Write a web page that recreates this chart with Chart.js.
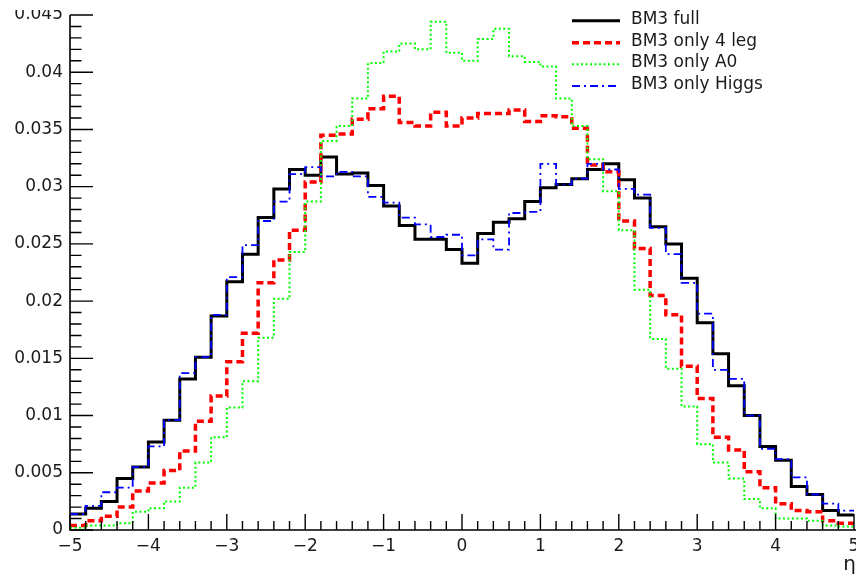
<!DOCTYPE html>
<html>
<head>
<meta charset="utf-8">
<title>BM3 eta distributions</title>
<script src="https://cdn.jsdelivr.net/npm/chart.js@4.4.1/dist/chart.umd.min.js"></script>
<style>
  html, body { margin: 0; padding: 0; background: #fff; }
  #wrap { width: 856px; height: 576px; position: relative; overflow: hidden; }
</style>
</head>
<body>
<div id="wrap"><canvas id="etaChart" width="856" height="576"></canvas></div>
<script>
// bin edges of the eta histograms (50 bins)
const binEdges = [
  -5.0, -4.8, -4.6, -4.4, -4.2, -4.0, -3.8, -3.6, -3.4, -3.2,
  -3.0, -2.8, -2.6, -2.4, -2.2, -2.0, -1.8, -1.6, -1.4, -1.2,
  -1.0, -0.8, -0.6, -0.4, -0.2, 0.0, 0.2, 0.4, 0.6, 0.8,
  1.0, 1.2, 1.4, 1.6, 1.8, 2.0, 2.2, 2.4, 2.6, 2.8,
  3.0, 3.2, 3.4, 3.6, 3.8, 4.0, 4.2, 4.4, 4.6, 4.8, 5.0
];

const fullValues = [
  0.0014, 0.0019, 0.0025, 0.0045, 0.0055, 0.0077, 0.0096, 0.0132, 0.0151, 0.0187,
  0.0217, 0.0241, 0.0273, 0.0298, 0.0315, 0.0310, 0.0326, 0.0311, 0.0312, 0.0301,
  0.0283, 0.0266, 0.0254, 0.0254, 0.0245, 0.0233, 0.0259, 0.0269, 0.0272, 0.0287,
  0.0299, 0.0302, 0.0307, 0.0315, 0.0320, 0.0306, 0.0290, 0.0265, 0.0250, 0.0220,
  0.0181, 0.0154, 0.0126, 0.0100, 0.0073, 0.0061, 0.0038, 0.0031, 0.0017, 0.0013
];

const fourLegValues = [
  0.0004, 0.0008, 0.0012, 0.0020, 0.0034, 0.0041, 0.0052, 0.0069, 0.0095, 0.0117,
  0.0147, 0.0172, 0.0216, 0.0236, 0.0262, 0.0304, 0.0345, 0.0346, 0.0359, 0.0368,
  0.0379, 0.0356, 0.0353, 0.0365, 0.0353, 0.0360, 0.0364, 0.0364, 0.0367, 0.0357,
  0.0362, 0.0361, 0.0351, 0.0319, 0.0313, 0.0270, 0.0246, 0.0205, 0.0188, 0.0143,
  0.0115, 0.0081, 0.0070, 0.0051, 0.0037, 0.0023, 0.0017, 0.0016, 0.0008, 0.0006
];

const a0Values = [
  0.0002, 0.0004, 0.0004, 0.0006, 0.0016, 0.0019, 0.0025, 0.0037, 0.0059, 0.0081,
  0.0107, 0.0130, 0.0168, 0.0202, 0.0243, 0.0287, 0.0340, 0.0353, 0.0377, 0.0408,
  0.0418, 0.0425, 0.0420, 0.0444, 0.0417, 0.0410, 0.0429, 0.0438, 0.0414, 0.0409,
  0.0405, 0.0377, 0.0353, 0.0324, 0.0296, 0.0262, 0.0210, 0.0167, 0.0141, 0.0108,
  0.0075, 0.0059, 0.0045, 0.0027, 0.0019, 0.0010, 0.0010, 0.0008, 0.0004, 0.0003
];

const higgsValues = [
  0.0014, 0.0021, 0.0033, 0.0037, 0.0055, 0.0073, 0.0096, 0.0137, 0.0151, 0.0188,
  0.0221, 0.0249, 0.0270, 0.0287, 0.0311, 0.0317, 0.0309, 0.0313, 0.0309, 0.0291,
  0.0286, 0.0273, 0.0267, 0.0256, 0.0258, 0.0240, 0.0254, 0.0245, 0.0277, 0.0278,
  0.0320, 0.0302, 0.0307, 0.0320, 0.0315, 0.0298, 0.0293, 0.0264, 0.0241, 0.0216,
  0.0189, 0.0140, 0.0132, 0.0100, 0.0071, 0.0062, 0.0046, 0.0031, 0.0023, 0.0017
];

const seriesLabels = ["BM3 full", "BM3 only 4 leg", "BM3 only A0", "BM3 only Higgs"];
const xTickValues = [-5, -4, -3, -2, -1, 0, 1, 2, 3, 4, 5];
const yTickValues = [0, 0.005, 0.01, 0.015, 0.02, 0.025, 0.03, 0.035, 0.04, 0.045];
const xTitle = "\u03b7";

// histogram as step line: one point per left bin edge, plus closing point at the last edge
function histPoints(values) {
  const pts = values.map((v, i) => ({ x: binEdges[i], y: v }));
  pts.push({ x: binEdges[binEdges.length - 1], y: values[values.length - 1] });
  return pts;
}

function fmtMinus(v) {
  return v < 0 ? "\u2212" + Math.abs(v) : String(v);
}

const labelFont = "'DejaVu Sans', 'Liberation Sans', sans-serif";

// ROOT-like frame: axis lines, inward ticks, legend and eta title
const rootFrame = {
  id: "rootFrame",
  afterDraw(chart) {
    const { ctx, chartArea: area } = chart;
    const xs = chart.scales.x;
    const ys = chart.scales.y;
    ctx.save();
    ctx.strokeStyle = "#000";
    ctx.lineWidth = 1.6;
    ctx.setLineDash([]);
    ctx.beginPath();
    ctx.moveTo(area.left, area.top);
    ctx.lineTo(area.left, area.bottom);
    ctx.lineTo(area.right + 2, area.bottom);
    ctx.stroke();

    ctx.lineWidth = 1.4;
    ctx.beginPath();
    for (let k = 0; k <= 45; k++) {
      const py = ys.getPixelForValue(k * 0.001);
      const len = k % 5 === 0 ? 23 : 11.5;
      ctx.moveTo(area.left, py);
      ctx.lineTo(area.left + len, py);
    }
    for (let k = 0; k <= 50; k++) {
      const px = xs.getPixelForValue(-5 + k * 0.2);
      const len = k % 5 === 0 ? 16 : 9;
      ctx.moveTo(px, area.bottom);
      ctx.lineTo(px, area.bottom - len);
    }
    ctx.stroke();

    // legend
    const rowY = [20.7, 42.7, 64.3, 86];
    chart.data.datasets.forEach((ds, i) => {
      ctx.strokeStyle = ds.borderColor;
      ctx.lineWidth = ds.borderWidth;
      ctx.setLineDash(ds.borderDash || []);
      ctx.beginPath();
      ctx.moveTo(572, rowY[i]);
      ctx.lineTo(620, rowY[i]);
      ctx.stroke();
      ctx.setLineDash([]);
      ctx.fillStyle = "#1a1a1a";
      ctx.font = "17px " + labelFont;
      ctx.textAlign = "left";
      ctx.textBaseline = "middle";
      ctx.fillText(ds.label, 631, rowY[i] - 1.5);
    });

    // axis title
    ctx.fillStyle = "#1a1a1a";
    ctx.font = "20px " + labelFont;
    ctx.textAlign = "right";
    ctx.textBaseline = "alphabetic";
    ctx.fillText(xTitle, 856, 570);

    // the picture is cropped at the top
    ctx.fillStyle = "#fff";
    ctx.fillRect(0, 0, chart.width, 10);
    ctx.restore();
  }
};

const ctx = document.getElementById("etaChart").getContext("2d");

new Chart(ctx, {
  type: "line",
  data: {
    datasets: [
      {
        label: seriesLabels[0],
        data: histPoints(fullValues),
        borderColor: "#000000",
        borderWidth: 3,
        borderDash: [],
        stepped: "before",
        pointRadius: 0,
        fill: false,
        order: 3
      },
      {
        label: seriesLabels[1],
        data: histPoints(fourLegValues),
        borderColor: "#ff0000",
        borderWidth: 3.5,
        borderDash: [7, 4],
        stepped: "before",
        pointRadius: 0,
        fill: false,
        order: 2
      },
      {
        label: seriesLabels[2],
        data: histPoints(a0Values),
        borderColor: "#00ff00",
        borderWidth: 2,
        borderDash: [2, 2.5],
        stepped: "before",
        pointRadius: 0,
        fill: false,
        order: 1
      },
      {
        label: seriesLabels[3],
        data: histPoints(higgsValues),
        borderColor: "#0000ff",
        borderWidth: 1.8,
        borderDash: [8, 4, 2, 4],
        stepped: "before",
        pointRadius: 0,
        fill: false,
        order: 0
      }
    ]
  },
  options: {
    responsive: false,
    devicePixelRatio: 1,
    animation: false,
    layout: { padding: { left: 0, right: 2, top: 15, bottom: 0 } },
    plugins: {
      legend: { display: false },
      tooltip: { enabled: false },
      title: { display: false }
    },
    scales: {
      x: {
        type: "linear",
        min: -5,
        max: 5,
        afterBuildTicks: (scale) => {
          scale.ticks = xTickValues.map((v) => ({ value: v }));
        },
        ticks: {
          autoSkip: false,
          maxRotation: 0,
          padding: 6,
          color: "#1a1a1a",
          font: { family: labelFont, size: 17 },
          callback: (v) => fmtMinus(v)
        },
        grid: { display: false, drawTicks: false },
        border: { display: false },
        afterFit: (scale) => {
          scale.height = 46;
          scale.paddingLeft = 0;
          scale.paddingRight = 0;
        }
      },
      y: {
        type: "linear",
        min: 0,
        max: 0.045,
        afterBuildTicks: (scale) => {
          scale.ticks = yTickValues.map((v) => ({ value: v }));
        },
        ticks: {
          autoSkip: false,
          padding: 7,
          color: "#1a1a1a",
          font: { family: labelFont, size: 17 },
          callback: (v) => String(parseFloat(Number(v).toFixed(3)))
        },
        grid: { display: false, drawTicks: false },
        border: { display: false },
        afterFit: (scale) => {
          scale.width = 70;
          scale.paddingTop = 0;
          scale.paddingBottom = 0;
        }
      }
    }
  },
  plugins: [rootFrame]
});
</script>
</body>
</html>
